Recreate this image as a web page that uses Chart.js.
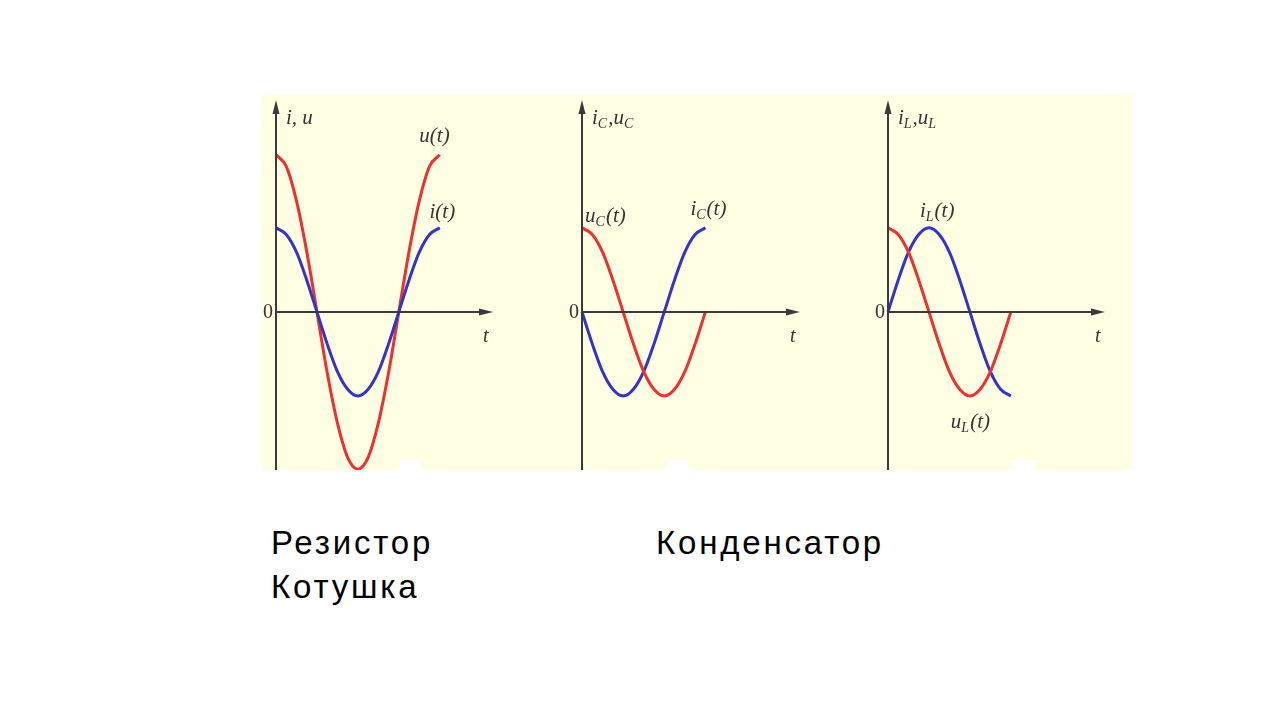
<!DOCTYPE html>
<html>
<head>
<meta charset="utf-8">
<script src="https://cdn.jsdelivr.net/npm/chart.js@4/dist/chart.umd.min.js"></script>
<style>
  body { margin: 0; background: #fff; width: 1280px; height: 720px; position: relative; overflow: hidden; }
  #panel { position: absolute; left: 262px; top: 95px; width: 871px; height: 375px; background: #ffffe4; }
  .notch { position: absolute; top: 460px; width: 22px; height: 10px; background: #fff; }
  canvas { position: absolute; top: 95px; }
  .caption { position: absolute; font-family: "Liberation Sans", Arial, sans-serif; font-size: 33px; letter-spacing: 2.8px; color: #000; }
</style>
</head>
<body>
<div id="panel"></div>
<div class="notch" style="left:399px"></div>
<div class="notch" style="left:667px"></div>
<div class="notch" style="left:1013px"></div>
<canvas id="c1" width="300" height="375" style="left:262px"></canvas>
<canvas id="c2" width="300" height="375" style="left:562px"></canvas>
<canvas id="c3" width="271" height="375" style="left:862px"></canvas>
<div class="caption" style="left:271px; top:524px">Резистор</div>
<div class="caption" style="left:656px; top:524px">Конденсатор</div>
<div class="caption" style="left:271px; top:568px">Котушка</div>

<script>
// time in sixteenths of a period
const tFull = [0, 1, 2, 3, 4, 5, 6, 7, 8, 9, 10, 11, 12, 13, 14, 15, 16];
const tPart = [0, 1, 2, 3, 4, 5, 6, 7, 8, 9, 10, 11, 12];

// resistor
const uR = [1.87, 1.73, 1.32, 0.72, 0, -0.72, -1.32, -1.73, -1.87, -1.73, -1.32, -0.72, 0, 0.72, 1.32, 1.73, 1.87];
const iR = [1, 0.92, 0.71, 0.38, 0, -0.38, -0.71, -0.92, -1, -0.92, -0.71, -0.38, 0, 0.38, 0.71, 0.92, 1];
// capacitor
const uC = [1, 0.92, 0.71, 0.38, 0, -0.38, -0.71, -0.92, -1, -0.92, -0.71, -0.38, 0];
const iC = [0, -0.38, -0.71, -0.92, -1, -0.92, -0.71, -0.38, 0, 0.38, 0.71, 0.92, 1];
// inductor
const uL = [1, 0.92, 0.71, 0.38, 0, -0.38, -0.71, -0.92, -1, -0.92, -0.71, -0.38, 0];
const iL = [0, 0.38, 0.71, 0.92, 1, 0.92, 0.71, 0.38, 0, -0.38, -0.71, -0.92, -1];

const RED = "#ee3030";
const BLUE = "#3434c8";
const AXIS = "#3a3a3a";

function pts(xs, ys) {
    return xs.map((x, k) => ({ x: x, y: ys[k] }));
}

function line(data, color) {
    return {
        data: data,
        borderColor: color,
        borderWidth: 3,
        pointRadius: 0,
        cubicInterpolationMode: "monotone",
        clip: false,
    };
}

// draws segments like [["i","C"],[",u","C"]] in italic serif
function drawLabel(ctx, x, y, parts, size) {
    ctx.fillStyle = "#333";
    ctx.textBaseline = "alphabetic";
    ctx.textAlign = "left";
    parts.forEach(p => {
        ctx.font = "italic " + size + "px 'Liberation Serif', serif";
        ctx.fillText(p[0], x, y);
        x += ctx.measureText(p[0]).width;
        if (p[1]) {
            ctx.font = "italic " + Math.round(size * 0.68) + "px 'Liberation Serif', serif";
            ctx.fillText(p[1], x, y + 4);
            x += ctx.measureText(p[1]).width + 1;
        }
    });
}

const axesPlugin = {
    id: "axesPlugin",
    afterDatasetsDraw(chart, args, opts) {
        const ctx = chart.ctx;
        const xs = chart.scales.x, ys = chart.scales.y;
        const x0 = xs.getPixelForValue(0), y0 = ys.getPixelForValue(0);
        const xEnd = xs.getPixelForValue(xs.max), yTop = ys.getPixelForValue(ys.max);
        const yBot = ys.getPixelForValue(ys.min);
        ctx.save();
        ctx.strokeStyle = AXIS;
        ctx.fillStyle = AXIS;
        ctx.lineWidth = 2;
        ctx.beginPath();
        ctx.moveTo(x0, yBot);
        ctx.lineTo(x0, yTop + 8);
        ctx.moveTo(x0, y0);
        ctx.lineTo(xEnd - 10, y0);
        ctx.stroke();
        // arrow heads
        ctx.beginPath();
        ctx.moveTo(x0, yTop);
        ctx.lineTo(x0 - 3.5, yTop + 14);
        ctx.lineTo(x0 + 3.5, yTop + 14);
        ctx.closePath();
        ctx.moveTo(xEnd, y0);
        ctx.lineTo(xEnd - 14, y0 - 3.5);
        ctx.lineTo(xEnd - 14, y0 + 3.5);
        ctx.closePath();
        ctx.fill();

        ctx.fillStyle = "#333";
        ctx.font = "20px 'Liberation Serif', serif";
        ctx.textAlign = "right";
        ctx.textBaseline = "middle";
        ctx.fillText("0", x0 - 3, y0 + 1);
        drawLabel(ctx, xEnd - 10, y0 + 30, [["t", ""]], 20);
        drawLabel(ctx, x0 + 10, yTop + 24, opts.title, 21);
        opts.labels.forEach(l => {
            drawLabel(ctx, xs.getPixelForValue(l.x), ys.getPixelForValue(l.y), [[l.main, l.sub], ["(t)", ""]], 21);
        });
        ctx.restore();
    }
};

function makeChart(id, padLeft, padRight, datasets, title, labels) {
    return new Chart(document.getElementById(id), {
        type: "line",
        data: { datasets: datasets },
        options: {
            responsive: false,
            animation: false,
            layout: { padding: { left: padLeft, right: padRight, top: 5, bottom: 0 } },
            scales: {
                x: { type: "linear", min: 0, max: 21.2, display: false },
                y: { min: -1.88, max: 2.52, display: false },
            },
            plugins: {
                legend: { display: false },
                tooltip: { enabled: false },
                axesPlugin: { title: title, labels: labels },
            },
        },
        plugins: [axesPlugin],
    });
}

makeChart("c1", 14, 69,
    [line(pts(tFull, iR), BLUE), line(pts(tFull, uR), RED)],
    [["i, u", ""]],
    [{ x: 14.0, y: 2.02, main: "u", sub: "" }, { x: 15.0, y: 1.12, main: "i", sub: "" }]);

makeChart("c2", 20, 62,
    [line(pts(tPart, uC), RED), line(pts(tPart, iC), BLUE)],
    [["i", "C"], [",u", "C"]],
    [{ x: 0.3, y: 1.07, main: "u", sub: "C" }, { x: 10.54, y: 1.15, main: "i", sub: "C" }]);

makeChart("c3", 26, 28,
    [line(pts(tPart, uL), RED), line(pts(tPart, iL), BLUE)],
    [["i", "L"], [",u", "L"]],
    [{ x: 3.12, y: 1.13, main: "i", sub: "L" }, { x: 6.14, y: -1.38, main: "u", sub: "L" }]);
</script>
</body>
</html>
